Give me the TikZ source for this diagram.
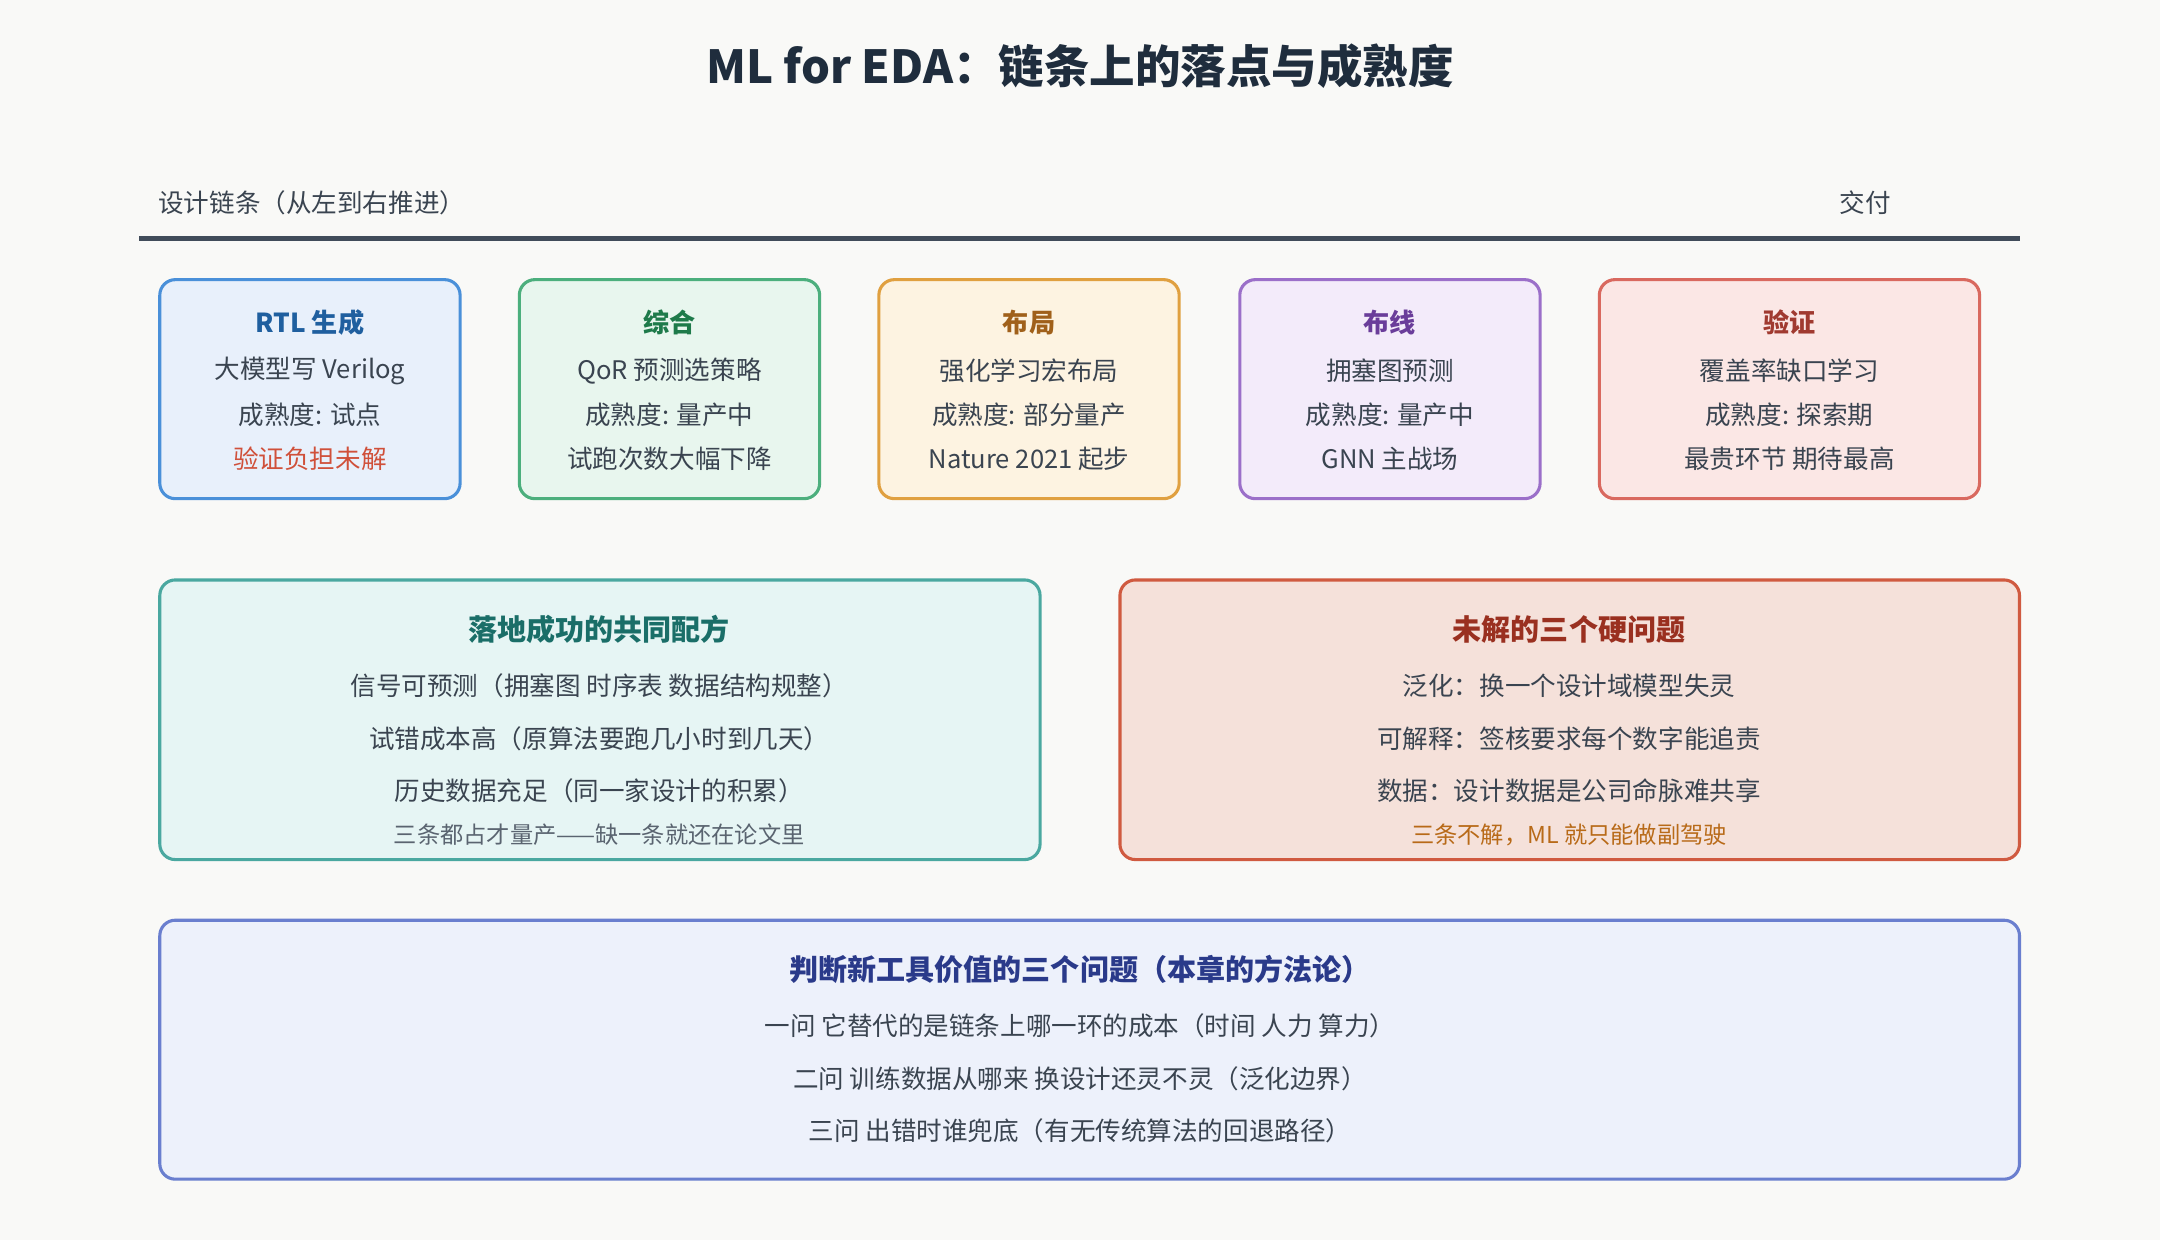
\documentclass[tikz,border=0pt]{standalone}
\usepackage{fontspec}
\setmainfont{Noto Sans CJK SC}
\definecolor{bgc}{HTML}{F9F9F7}
\definecolor{ink}{HTML}{1F2D3D}
\definecolor{txt}{HTML}{3A4450}
\definecolor{bluB}{HTML}{4A90D9}\definecolor{bluF}{HTML}{E8F0FB}\definecolor{bluT}{HTML}{1F5F9F}
\definecolor{grnB}{HTML}{4CAF7D}\definecolor{grnF}{HTML}{E8F6EE}\definecolor{grnT}{HTML}{1E7A4A}
\definecolor{oraB}{HTML}{E0A040}\definecolor{oraF}{HTML}{FDF3E1}\definecolor{oraT}{HTML}{A0601A}
\definecolor{purB}{HTML}{9B6FC9}\definecolor{purF}{HTML}{F3EBFA}\definecolor{purT}{HTML}{6A3D9A}
\definecolor{redB}{HTML}{D9695F}\definecolor{redF}{HTML}{FBE7E5}\definecolor{redT}{HTML}{A03A30}
\definecolor{tealB}{HTML}{4AA8A0}\definecolor{tealF}{HTML}{E6F5F4}\definecolor{tealT}{HTML}{1A6E68}
\definecolor{rstB}{HTML}{D05A40}\definecolor{rstF}{HTML}{F5E1DA}\definecolor{rstT}{HTML}{9A3020}
\definecolor{indB}{HTML}{6A7FCF}\definecolor{indF}{HTML}{EDF1FB}\definecolor{indT}{HTML}{2A3A8A}
\definecolor{warn}{HTML}{D0503A}
\definecolor{amber}{HTML}{B86A18}
\definecolor{muted}{HTML}{5A6470}
\tikzset{
  panel/.style={rounded corners=8pt, line width=1.6pt},
  body/.style={text=txt, font=\fontsize{13.2}{16}\selectfont},
  head/.style={font=\fontsize{13.5}{16}\selectfont\bfseries},
  note/.style={font=\fontsize{12}{14}\selectfont},
}
\begin{document}
\begin{tikzpicture}[x=0.025cm,y=-0.025cm]
\fill[bgc] (0,0) rectangle (1568,900);
\useasboundingbox (0,0) rectangle (1568,900);
\node[text=ink, font=\fontsize{23.5}{28}\selectfont\bfseries] (title) at (784,48) {ML for EDA：链条上的落点与成熟度};
\node[anchor=west, text=muted, body] (chain) at (110,147) {设计链条（从左到右推进）};
\node[text=muted, body] (deliver) at (1354,147) {交付};
\coordinate (ls) at (101,173);
\coordinate (le) at (1466,173);
\draw[ink!85, line width=2.5pt] (ls) -- (le);
% stage boxes
\foreach \x/\w/\b/\f/\t/\name/\la/\lb/\lc/\cc in {
  116/334/bluB/bluF/bluT/RTL 生成/大模型写 Verilog/成熟度: 试点/验证负担未解/warn,
  377/595/grnB/grnF/grnT/综合/QoR 预测选策略/成熟度: 量产中/试跑次数大幅下降/txt,
  638/856/oraB/oraF/oraT/布局/强化学习宏布局/成熟度: 部分量产/Nature 2021 起步/txt,
  900/1118/purB/purF/purT/布线/拥塞图预测/成熟度: 量产中/GNN 主战场/txt,
  1161/1437/redB/redF/redT/验证/覆盖率缺口学习/成熟度: 探索期/最贵环节 期待最高/txt}{
  \draw[panel, draw=\b, fill=\f] (\x,203) rectangle (\w,362);
  \node[head, text=\t] at ({(\x+\w)/2},234) {\name};
  \node[body] at ({(\x+\w)/2},269) {\la};
  \node[body] at ({(\x+\w)/2},301) {\lb};
  \node[body, text=\cc] at ({(\x+\w)/2},333) {\lc};
}
% recipe
\draw[panel, draw=tealB, fill=tealF] (116,421) rectangle (755,624);
\node[head, text=tealT, font=\fontsize{15}{18}\selectfont\bfseries] (recipe) at (435,457) {落地成功的共同配方};
\node[body] (r1) at (435,498) {信号可预测（拥塞图 时序表 数据结构规整）};
\node[body] (r2) at (435,536) {试错成本高（原算法要跑几小时到几天）};
\node[body] (r3) at (435,574) {历史数据充足（同一家设计的积累）};
\node[note, text=muted] (r4) at (435,606) {三条都占才量产——缺一条就还在论文里};
% open problems
\draw[panel, draw=rstB, fill=rstF] (813,421) rectangle (1466,624);
\node[head, text=rstT, font=\fontsize{15}{18}\selectfont\bfseries] (open) at (1139,457) {未解的三个硬问题};
\node[body] (o1) at (1139,498) {泛化：换一个设计域模型失灵};
\node[body] (o2) at (1139,536) {可解释：签核要求每个数字能追责};
\node[body] (o3) at (1139,574) {数据：设计数据是公司命脉难共享};
\node[note, text=amber] (o4) at (1139,606) {三条不解，ML 就只能做副驾驶};
% method
\draw[panel, draw=indB, fill=indF] (116,668) rectangle (1466,856);
\node[head, text=indT, font=\fontsize{15}{18}\selectfont\bfseries] (method) at (784,704) {判断新工具价值的三个问题（本章的方法论）};
\node[body] (q1) at (784,745) {一问 它替代的是链条上哪一环的成本（时间 人力 算力）};
\node[body] (q2) at (784,783) {二问 训练数据从哪来 换设计还灵不灵（泛化边界）};
\node[body] (q3) at (784,821) {三问 出错时谁兜底（有无传统算法的回退路径）};
\end{tikzpicture}
\end{document}
